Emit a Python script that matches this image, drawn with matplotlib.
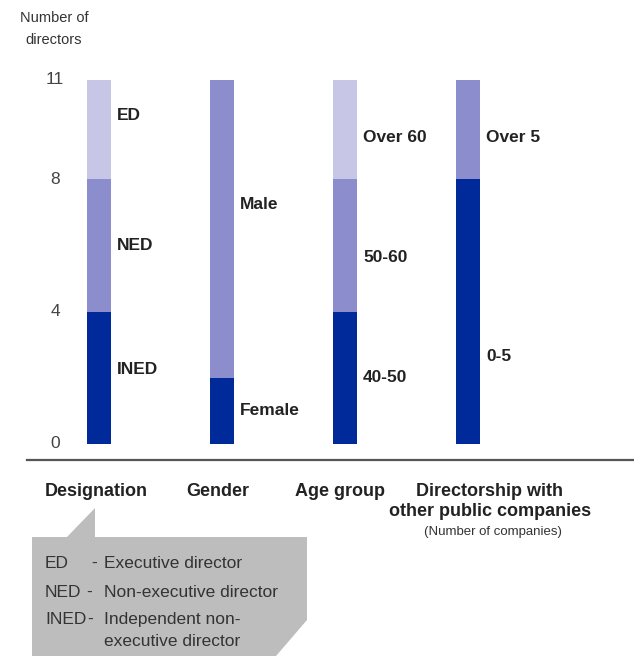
import matplotlib
matplotlib.use("Agg")
import matplotlib.pyplot as plt
from matplotlib.patches import Polygon
from matplotlib.lines import Line2D

# data
groups = ["Designation", "Gender", "Age group", "Directorship with\nother public companies"]
segments = [
    [("INED", 4), ("NED", 4), ("ED", 3)],
    [("Female", 2), ("Male", 9)],
    [("40-50", 4), ("50-60", 4), ("Over 60", 3)],
    [("0-5", 8), ("Over 5", 3)],
]
yticks = [0, 4, 8, 11]
legend_abbr = ["ED", "NED", "INED"]
legend_desc = [["Executive director"], ["Non-executive director"],
               ["Independent non-", "executive director"]]

# style / layout
colours = ["#002a9a", "#8c8dcc", "#c8c6e7"]
label_y = [[2.24, 6.0, 9.94], [1.0, 7.24], [2.02, 5.64, 9.25], [2.64, 9.25]]
W, H = 634, 656
dark = "#222222"
grey_txt = "#333333"
font = "Liberation Sans"

fig = plt.figure(figsize=(W / 100, H / 100), dpi=100)

def fx(x):
    return x / W

def fy(y):
    return 1 - y / H

ax = fig.add_axes([0, fy(444), 1, fy(80) - fy(444)])
ax.set_ylim(0, 11)
ax.set_xlim(-99 / 123, (W - 99) / 123)
ax.axis("off")

for i, segs in enumerate(segments):
    bottom = 0
    for j, (name, val) in enumerate(segs):
        ax.bar(i, val, bottom=bottom, width=24 / 123, color=colours[j], linewidth=0)
        ax.text(i + 18 / 123, label_y[i][j], name, ha="left", va="center",
                fontsize=12.5, fontweight="bold", family=font, color=dark)
        bottom += val

for t in yticks:
    ax.text(-44 / 123, t, str(t), ha="center", va="center", fontsize=12.5,
            color="#444444", family=font)

fig.text(fx(54), fy(29), "Number of\ndirectors", ha="center", va="center",
         fontsize=10.5, color=grey_txt, family=font, linespacing=1.75)

# baseline
fig.add_artist(Line2D([fx(27), fx(634)], [fy(460), fy(460)], color="#555555", lw=1.6))

# group labels
label_x = [96, 218, 340, 490]
for x, g in zip(label_x, groups):
    fig.text(fx(x), fy(483), g, ha="center", va="top", fontsize=13,
             fontweight="bold", color=dark, family=font, linespacing=1.2)
fig.text(fx(493), fy(532), "(Number of companies)", ha="center", va="center",
         fontsize=9.5, color=grey_txt, family=font)

# legend speech box
pts = [(32, 537), (67, 537), (95, 508), (95, 537), (307, 537), (307, 620),
       (276, 656), (32, 656)]
fig.add_artist(Polygon([(fx(x), fy(y)) for x, y in pts], closed=True,
                       facecolor="#bdbdbd", edgecolor="none", transform=fig.transFigure))

row_y = [568, 597, 624]  # baselines
dash_x = [91, 86, 87]
for y, dx, abbr, desc in zip(row_y, dash_x, legend_abbr, legend_desc):
    fig.text(fx(45), fy(y), abbr, ha="left", va="baseline", fontsize=12.5,
             color=grey_txt, family=font)
    fig.text(fx(dx), fy(y), "-", ha="left", va="baseline", fontsize=12.5,
             color=grey_txt, family=font)
    for k, line in enumerate(desc):
        fig.text(fx(104), fy(y + 22 * k), line, ha="left", va="baseline",
                 fontsize=12.5, color=grey_txt, family=font)

fig.savefig("out.png", dpi=100)
